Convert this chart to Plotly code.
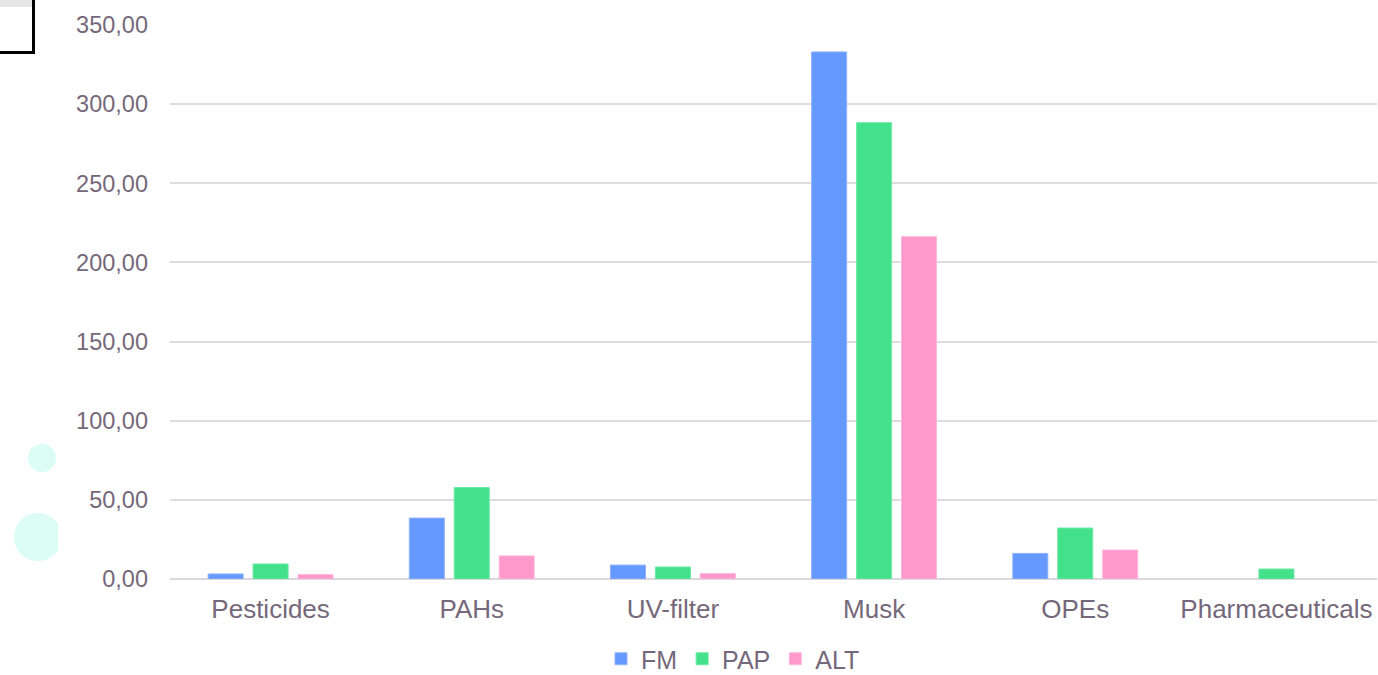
import math
import plotly.graph_objects as go

categories = ["Pesticides", "PAHs", "UV-filter", "Musk", "OPEs", "Pharmaceuticals"]
fm_values = [3.2, 38.5, 8.8, 333.0, 16.2, None]
pap_values = [9.5, 57.8, 7.6, 288.3, 32.2, 6.3]
alt_values = [2.8, 14.6, 3.5, 216.3, 18.3, None]
y_ticks = [0, 50, 100, 150, 200, 250, 300, 350]

W, H = 1378, 675
L, R, T, B = 170, 1, 25, 96
TEXT = "#75687a"
FONT = "Liberation Sans, Arial, sans-serif"

fig = go.Figure()
for name, vals, color, edge in [
    ("FM", fm_values, "#6699ff", "#8fb3ff"),
    ("PAP", pap_values, "#43e28a", "#6fe9a6"),
    ("ALT", alt_values, "#ff99cc", "#ffb8dc"),
]:
    fig.add_trace(go.Bar(
        x=categories, y=vals, name=name,
        marker=dict(color=color, line=dict(color=edge, width=1)),
    ))


def px_x(p):
    return (p - L) / (W - L - R)


def px_y(p):
    return (H - B - p) / (H - T - B)


shapes = [
    # framed box in the top-left corner
    dict(type="rect", xref="paper", yref="paper",
         x0=px_x(-10), x1=px_x(33.5), y0=px_y(-10), y1=px_y(52.5),
         fillcolor="white", line=dict(color="black", width=3), layer="above"),
    dict(type="rect", xref="paper", yref="paper",
         x0=px_x(-10), x1=px_x(32), y0=px_y(-10), y1=px_y(7),
         fillcolor="#e6e6e6", line=dict(width=0), layer="above"),
    # small mint dot
    dict(type="circle", xref="paper", yref="paper",
         x0=px_x(28), x1=px_x(56), y0=px_y(472), y1=px_y(444),
         fillcolor="#dcfdf3", line=dict(width=0), layer="above"),
]

# larger mint dot, cut off on its right side
cx, cy, r, cut = 38, 537, 24, 58
ang = math.acos((cut - cx) / r)
pts = []
n = 60
for i in range(n + 1):
    a = ang + (2 * math.pi - 2 * ang) * i / n
    pts.append((cx + r * math.cos(a), cy - r * math.sin(a)))
path = "M " + " L ".join(f"{px_x(x):.5f},{px_y(y):.5f}" for x, y in pts) + " Z"
shapes.append(dict(type="path", xref="paper", yref="paper", path=path,
                   fillcolor="#dcfdf3", line=dict(width=0), layer="above"))

fig.update_layout(
    width=W, height=H,
    margin=dict(l=L, r=R, t=T, b=B, autoexpand=False),
    paper_bgcolor="white", plot_bgcolor="white",
    separators=",.",
    barmode="group", bargap=0.33, bargroupgap=0.22,
    font=dict(family=FONT, color=TEXT, size=23),
    showlegend=True,
    legend=dict(orientation="h", x=px_x(733), xanchor="center",
                yref="container", y=(H - 659) / H, yanchor="middle",
                font=dict(size=25, color=TEXT), itemwidth=30,
                tracegroupgap=0, traceorder="normal",
                bgcolor="rgba(0,0,0,0)"),
    shapes=shapes,
)
fig.update_yaxes(range=[0, 350], tickvals=y_ticks, tickformat=".2f",
                 showgrid=True, gridcolor="#dfdbe0", gridwidth=1.5,
                 zeroline=True, zerolinecolor="#dcd7dd", zerolinewidth=2,
                 ticks="", tickfont=dict(size=23.5, color=TEXT),
                 showline=False, ticklabelstandoff=21, automargin=False)
fig.update_xaxes(showgrid=False, ticks="", tickfont=dict(size=26, color=TEXT),
                 showline=False, ticklabelstandoff=12, automargin=False)

fig.write_html("out.html")
